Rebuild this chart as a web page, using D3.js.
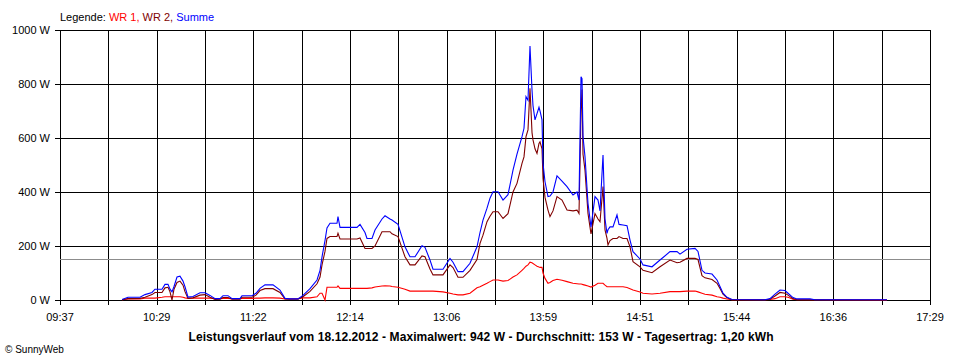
<!DOCTYPE html>
<html>
<head>
<meta charset="utf-8">
<script src="https://cdn.jsdelivr.net/npm/d3@7"></script>
<style>
  html, body { margin: 0; padding: 0; background: #fff; }
  svg { display: block; font-family: "Liberation Sans", Arial, sans-serif; }
</style>
</head>
<body>
<svg id="chart" width="960" height="360"></svg>
<script>
// ---------- data ----------
const times = ["10:10:38","10:13:54","10:20:24","10:23:07","10:26:55","10:28:32","10:32:20","10:33:58","10:35:36","10:36:41",
"10:37:46","10:38:51","10:40:29","10:42:06","10:43:44","10:44:49","10:46:27","10:49:09","10:52:57","10:55:40",
"10:58:23","11:01:06","11:03:48","11:05:26","11:08:09","11:10:19","11:14:39","11:15:44","11:21:10","11:23:20",
"11:25:30","11:28:13","11:32:34","11:36:21","11:39:04","11:41:47","11:46:07","11:48:50","11:52:38","11:56:26",
"11:58:04","11:59:09","12:00:46","12:01:51","12:03:29","12:07:17","12:07:49","12:08:55","12:18:08","12:19:46",
"12:22:28","12:23:33","12:26:16","12:27:54","12:31:42","12:33:19","12:36:02","12:37:07","12:40:23","12:44:10",
"12:46:53","12:49:36","12:53:24","12:55:01","12:57:44","12:59:22","13:04:47","13:08:35","13:10:13","13:12:56",
"13:15:38","13:19:26","13:23:14","13:24:52","13:26:29","13:28:40","13:30:17","13:31:55","13:34:38","13:37:21",
"13:40:03","13:42:46","13:44:56","13:47:39","13:48:44","13:49:49","13:50:54","13:51:59","13:53:05","13:53:37",
"13:54:42","13:55:47","13:56:52","13:57:25","13:58:30","13:59:03","14:00:08","14:01:45","14:02:50","14:04:28",
"14:06:38","14:09:21","14:12:04","14:15:19","14:17:29","14:18:34","14:19:07","14:19:40","14:20:12","14:20:45",
"14:21:50","14:23:27","14:25:05","14:27:15","14:28:53","14:29:58","14:31:36","14:32:41","14:33:46","14:34:18",
"14:35:24","14:37:01","14:39:11","14:40:17","14:42:27","14:44:37","14:46:15","14:47:52","14:51:40","14:53:18",
"14:58:11","15:02:31","15:07:57","15:11:45","15:13:22","15:17:10","15:21:31","15:23:08","15:25:18","15:26:56",
"15:30:44","15:33:27","15:35:04","15:36:42","15:38:52","15:41:35","15:59:29","16:02:12","16:04:55","16:07:37",
"16:10:20","16:11:58","16:14:41","16:16:51","16:23:54","16:26:37","17:05:40"];

const wr1 = [1,4,4,7,7,7,10,12,12,12,
12,12,12,12,10,8,6,7,7,7,
7,5,5,6,6,5,5,6,6,7,
7,8,8,7,4,4,5,8,8,12,
25,25,0,47,47,47,52,43,43,43,
43,43,45,48,52,53,52,50,47,40,
33,33,33,33,33,33,30,25,22,19,
19,25,45,49,55,62,68,74,74,70,
72,85,93,110,117,125,130,140,138,135,
130,125,122,121,121,100,80,62,65,72,
77,73,68,62,60,59,59,59,58,57,
55,52,48,55,62,62,62,55,49,49,
49,49,49,49,49,46,42,37,30,25,
22,25,31,31,31,33,33,30,25,21,
18,12,10,7,4,1,1,2,5,12,
12,10,3,1,1,1,0];

const wr2 = [1,5,6,10,20,28,28,45,47,30,
0,40,65,70,55,31,6,8,18,20,
10,2,3,9,9,3,3,10,10,18,
35,42,42,28,4,3,3,12,32,60,
85,130,180,228,235,235,247,226,226,230,
191,191,191,200,253,253,253,245,235,160,
130,130,163,160,115,93,93,130,120,84,
84,110,150,210,240,290,310,327,327,302,
320,400,432,506,530,605,630,784,620,593,
560,543,580,586,560,450,380,333,309,330,
383,370,333,330,333,320,500,700,780,540,
480,321,245,320,300,290,420,260,228,204,
220,228,228,235,228,228,197,142,123,110,
101,123,148,138,140,154,154,150,90,82,
76,62,43,22,8,1,1,3,15,28,
25,18,5,2,1,1,0];

const summe = [2,10,10,20,28,40,40,58,58,40,
30,50,85,88,70,49,11,13,27,27,
17,5,5,16,16,5,5,16,16,25,
43,56,56,37,6,4,4,17,42,74,
110,160,220,267,284,284,309,269,269,280,
250,228,228,259,300,312,300,296,280,197,
160,160,201,195,148,114,114,154,140,105,
105,136,197,250,296,340,377,401,401,370,
390,481,540,605,636,753,740,941,778,720,
667,690,714,700,667,506,438,383,385,400,
460,440,420,389,400,370,600,827,820,605,
530,358,270,383,370,330,537,300,247,260,
271,271,315,280,278,275,222,179,152,130,
123,148,179,179,170,188,191,180,110,100,
96,74,50,25,10,2,1,5,22,37,
35,25,9,4,4,1,1];

const seriesNames = ["WR 1", "WR 2", "Summe"];
const yTicks = [0, 200, 400, 600, 800, 1000];
const xTickLabels = ["09:37","10:29","11:22","12:14","13:06","13:59","14:51","15:44","16:36","17:29"];
const domainStart = "09:37:00", domainEnd = "17:29:00";
const average = 153;
const titleText = "Leistungsverlauf vom 18.12.2012 - Maximalwert: 942 W - Durchschnitt: 153 W - Tagesertrag: 1,20 kWh";

// ---------- chart ----------
(function () {
const parse = d3.timeParse("%H:%M:%S");
const svg = d3.select("#chart");
const mLeft = 60, mRight = 930, mTop = 30, mBottom = 300;

const x = d3.scaleTime().domain([parse(domainStart), parse(domainEnd)]).range([mLeft, mRight]);
const y = d3.scaleLinear().domain([0, 1000]).range([mBottom, mTop]);

const t0 = parse(domainStart).getTime(), t1 = parse(domainEnd).getTime();
const gridTimes = d3.range(19).map(i => new Date(t0 + (t1 - t0) * i / 18));

const grid = svg.append("g").attr("shape-rendering", "crispEdges");
grid.selectAll("line.v").data(gridTimes).join("line")
  .attr("x1", d => Math.round(x(d)) + 0.5).attr("x2", d => Math.round(x(d)) + 0.5)
  .attr("y1", mTop).attr("y2", mBottom + 5)
  .attr("stroke", "#000").attr("stroke-width", 1);
grid.selectAll("line.h").data(yTicks).join("line")
  .attr("x1", mLeft - 5).attr("x2", mRight + 0.5)
  .attr("y1", d => Math.round(y(d)) + 0.5).attr("y2", d => Math.round(y(d)) + 0.5)
  .attr("stroke", "#000").attr("stroke-width", 1);

grid.append("line")
  .attr("x1", mLeft).attr("x2", mRight)
  .attr("y1", Math.round(y(average)) + 0.5).attr("y2", Math.round(y(average)) + 0.5)
  .attr("stroke", "#8c8c8c").attr("stroke-width", 1);

svg.append("g").selectAll("text").data(yTicks).join("text")
  .attr("x", 50).attr("y", d => y(d) + 4)
  .attr("text-anchor", "end").attr("font-size", 11).attr("fill", "#000")
  .text(d => d + " W");

svg.append("g").selectAll("text").data(xTickLabels).join("text")
  .attr("x", (d, i) => x(gridTimes[i * 2]))
  .attr("y", 321)
  .attr("text-anchor", "middle").attr("font-size", 11).attr("fill", "#000")
  .text(d => d);

const colors = ["#ff0000", "#800000", "#0000ff"];
const seriesData = [wr1, wr2, summe];
const line = d3.line()
  .x((d, i) => x(parse(times[i])))
  .y(d => y(d));
seriesData.forEach((vals, k) => {
  svg.append("path").datum(vals)
    .attr("d", line)
    .attr("fill", "none")
    .attr("stroke", colors[k])
    .attr("stroke-width", 1.1)
    .attr("stroke-linejoin", "miter");
});

const leg = svg.append("text").attr("x", 60).attr("y", 21).attr("font-size", 11);
leg.append("tspan").attr("fill", "#000").text("Legende: ");
seriesNames.forEach((n, i) => {
  leg.append("tspan").attr("fill", colors[i]).text(n + (i < seriesNames.length - 1 ? ", " : ""));
});

svg.append("text").attr("x", 481).attr("y", 341)
  .attr("text-anchor", "middle").attr("font-size", 12).attr("font-weight", "bold")
  .attr("fill", "#000").attr("textLength", 585).attr("lengthAdjust", "spacing")
  .text(titleText);

svg.append("text").attr("x", 5).attr("y", 353).attr("font-size", 10).attr("fill", "#000")
  .text("© SunnyWeb");
})();
</script>
</body>
</html>
